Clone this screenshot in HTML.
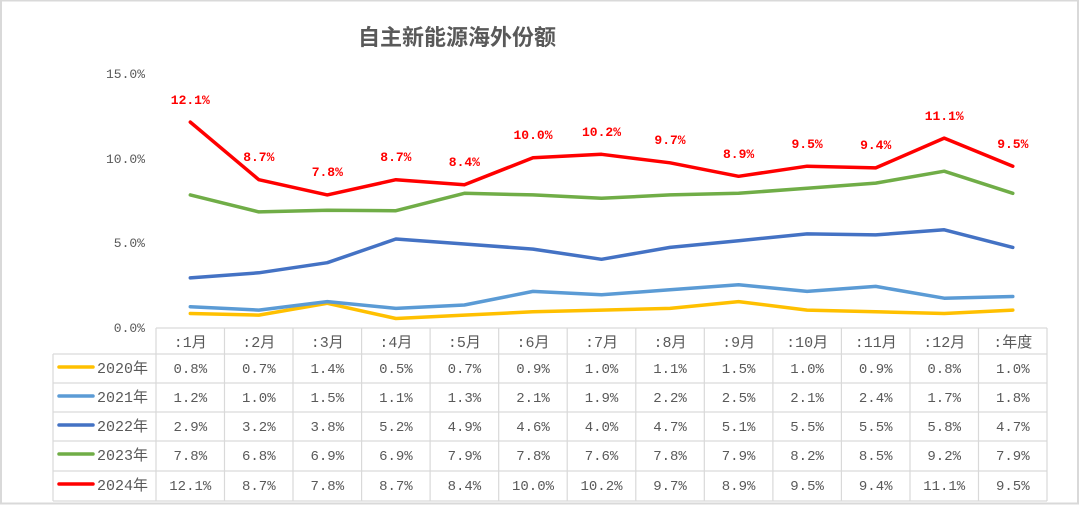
<!DOCTYPE html>
<html><head><meta charset="utf-8"><style>
html,body{margin:0;padding:0;background:#fff;}
svg{display:block;}
text{font-family:"Liberation Mono","Noto Sans CJK SC",monospace;}
</style></head><body>
<svg width="1080" height="506" viewBox="0 0 1080 506" xmlns="http://www.w3.org/2000/svg">
<rect x="0" y="0" width="1080" height="506" fill="#fff"/>
<rect x="1" y="0.5" width="1077" height="503" fill="none" stroke="#d9d9d9" stroke-width="2"/>
<text x="457" y="45" text-anchor="middle" font-family="'Liberation Sans','Noto Sans CJK SC',sans-serif" font-size="22" font-weight="bold" fill="#595959" style="font-family:'Liberation Sans','Noto Sans CJK SC',sans-serif">自主新能源海外份额</text>
<g font-size="13" fill="#595959" text-anchor="end">
<text x="145" y="78">15.0%</text>
<text x="145" y="163">10.0%</text>
<text x="145" y="247">5.0%</text>
<text x="145" y="332">0.0%</text>
</g>
<g fill="none" stroke-width="3.5" stroke-linejoin="round" stroke-linecap="round">
<polyline stroke="#FFC000" points="190.3,313.5 258.8,315.1 327.3,303.3 395.9,318.5 464.4,315.1 533,311.8 601.5,310.1 670,308.4 738.6,301.6 807.1,310.1 875.7,311.8 944.2,313.5 1012.8,310.1"/>
<polyline stroke="#5B9BD5" points="190.3,306.7 258.8,310.1 327.3,301.6 395.9,308.4 464.4,305 533,291.4 601.5,294.8 670,289.8 738.6,284.7 807.1,291.4 875.7,286.4 944.2,298.2 1012.8,296.5"/>
<polyline stroke="#4472C4" points="190.3,277.9 258.8,272.8 327.3,262.7 395.9,239 464.4,244 533,249.1 601.5,259.3 670,247.4 738.6,240.7 807.1,233.9 875.7,234.9 944.2,229.8 1012.8,247.4"/>
<polyline stroke="#70AD47" points="190.3,194.9 258.8,211.9 327.3,210.2 395.9,210.7 464.4,193.3 533,194.9 601.5,198.3 670,194.9 738.6,193.3 807.1,188.2 875.7,183.1 944.2,171.2 1012.8,193.3"/>
<polyline stroke="#FF0000" points="190.3,122.1 258.8,179.7 327.3,194.9 395.9,179.7 464.4,184.8 533,157.7 601.5,154.3 670,162.8 738.6,176.3 807.1,166.2 875.7,167.9 944.2,138.1 1012.8,166.2"/>
</g>
<g font-size="13" font-weight="bold" fill="#FF0000" text-anchor="middle">
<text x="190.3" y="104">12.1%</text>
<text x="258.8" y="161">8.7%</text>
<text x="327.3" y="176">7.8%</text>
<text x="395.9" y="161">8.7%</text>
<text x="464.4" y="166">8.4%</text>
<text x="533" y="139">10.0%</text>
<text x="601.5" y="136">10.2%</text>
<text x="670" y="144">9.7%</text>
<text x="738.6" y="158">8.9%</text>
<text x="807.1" y="148">9.5%</text>
<text x="875.7" y="149">9.4%</text>
<text x="944.2" y="120">11.1%</text>
<text x="1012.8" y="148">9.5%</text>
</g>
<g stroke="#d9d9d9" stroke-width="1.2" fill="none">
<line x1="156" y1="328" x2="1047" y2="328"/>
<line x1="53" y1="354" x2="1047" y2="354"/>
<line x1="53" y1="383" x2="1047" y2="383"/>
<line x1="53" y1="412" x2="1047" y2="412"/>
<line x1="53" y1="441" x2="1047" y2="441"/>
<line x1="53" y1="471" x2="1047" y2="471"/>
<line x1="53" y1="501" x2="1047" y2="501"/>
<line x1="53" y1="354" x2="53" y2="501"/>
<line x1="156" y1="328" x2="156" y2="501"/>
<line x1="224.5" y1="328" x2="224.5" y2="501"/>
<line x1="293" y1="328" x2="293" y2="501"/>
<line x1="361.6" y1="328" x2="361.6" y2="501"/>
<line x1="430.1" y1="328" x2="430.1" y2="501"/>
<line x1="498.7" y1="328" x2="498.7" y2="501"/>
<line x1="567.2" y1="328" x2="567.2" y2="501"/>
<line x1="635.8" y1="328" x2="635.8" y2="501"/>
<line x1="704.3" y1="328" x2="704.3" y2="501"/>
<line x1="772.9" y1="328" x2="772.9" y2="501"/>
<line x1="841.4" y1="328" x2="841.4" y2="501"/>
<line x1="910" y1="328" x2="910" y2="501"/>
<line x1="978.5" y1="328" x2="978.5" y2="501"/>
<line x1="1047" y1="328" x2="1047" y2="501"/>
</g>
<g stroke-width="3.5" stroke-linecap="round">
<line x1="59" y1="367" x2="93" y2="367" stroke="#FFC000"/>
<line x1="59" y1="396" x2="93" y2="396" stroke="#5B9BD5"/>
<line x1="59" y1="425" x2="93" y2="425" stroke="#4472C4"/>
<line x1="59" y1="454" x2="93" y2="454" stroke="#70AD47"/>
<line x1="59" y1="484" x2="93" y2="484" stroke="#FF0000"/>
</g>
<g font-size="15" fill="#595959" style="font-family:'Liberation Sans','Noto Sans CJK SC',sans-serif">
<text x="97" y="373">2020年</text>
<text x="97" y="402">2021年</text>
<text x="97" y="431">2022年</text>
<text x="97" y="460">2023年</text>
<text x="97" y="490">2024年</text>
</g>
<g font-size="15" fill="#595959" text-anchor="middle" style="font-family:'Liberation Sans','Noto Sans CJK SC',sans-serif">
<text x="190.3" y="347">:1月</text><text x="258.8" y="347">:2月</text><text x="327.3" y="347">:3月</text><text x="395.9" y="347">:4月</text><text x="464.4" y="347">:5月</text><text x="533" y="347">:6月</text><text x="601.5" y="347">:7月</text><text x="670" y="347">:8月</text><text x="738.6" y="347">:9月</text><text x="807.1" y="347">:10月</text><text x="875.7" y="347">:11月</text><text x="944.2" y="347">:12月</text><text x="1012.8" y="347">:年度</text>
</g>
<g font-size="14" fill="#595959" text-anchor="middle">
<text x="190.3" y="373">0.8%</text><text x="258.8" y="373">0.7%</text><text x="327.3" y="373">1.4%</text><text x="395.9" y="373">0.5%</text><text x="464.4" y="373">0.7%</text><text x="533" y="373">0.9%</text><text x="601.5" y="373">1.0%</text><text x="670" y="373">1.1%</text><text x="738.6" y="373">1.5%</text><text x="807.1" y="373">1.0%</text><text x="875.7" y="373">0.9%</text><text x="944.2" y="373">0.8%</text><text x="1012.8" y="373">1.0%</text>
<text x="190.3" y="402">1.2%</text><text x="258.8" y="402">1.0%</text><text x="327.3" y="402">1.5%</text><text x="395.9" y="402">1.1%</text><text x="464.4" y="402">1.3%</text><text x="533" y="402">2.1%</text><text x="601.5" y="402">1.9%</text><text x="670" y="402">2.2%</text><text x="738.6" y="402">2.5%</text><text x="807.1" y="402">2.1%</text><text x="875.7" y="402">2.4%</text><text x="944.2" y="402">1.7%</text><text x="1012.8" y="402">1.8%</text>
<text x="190.3" y="431">2.9%</text><text x="258.8" y="431">3.2%</text><text x="327.3" y="431">3.8%</text><text x="395.9" y="431">5.2%</text><text x="464.4" y="431">4.9%</text><text x="533" y="431">4.6%</text><text x="601.5" y="431">4.0%</text><text x="670" y="431">4.7%</text><text x="738.6" y="431">5.1%</text><text x="807.1" y="431">5.5%</text><text x="875.7" y="431">5.5%</text><text x="944.2" y="431">5.8%</text><text x="1012.8" y="431">4.7%</text>
<text x="190.3" y="460">7.8%</text><text x="258.8" y="460">6.8%</text><text x="327.3" y="460">6.9%</text><text x="395.9" y="460">6.9%</text><text x="464.4" y="460">7.9%</text><text x="533" y="460">7.8%</text><text x="601.5" y="460">7.6%</text><text x="670" y="460">7.8%</text><text x="738.6" y="460">7.9%</text><text x="807.1" y="460">8.2%</text><text x="875.7" y="460">8.5%</text><text x="944.2" y="460">9.2%</text><text x="1012.8" y="460">7.9%</text>
<text x="190.3" y="490">12.1%</text><text x="258.8" y="490">8.7%</text><text x="327.3" y="490">7.8%</text><text x="395.9" y="490">8.7%</text><text x="464.4" y="490">8.4%</text><text x="533" y="490">10.0%</text><text x="601.5" y="490">10.2%</text><text x="670" y="490">9.7%</text><text x="738.6" y="490">8.9%</text><text x="807.1" y="490">9.5%</text><text x="875.7" y="490">9.4%</text><text x="944.2" y="490">11.1%</text><text x="1012.8" y="490">9.5%</text>
</g>
</svg>
</body></html>
